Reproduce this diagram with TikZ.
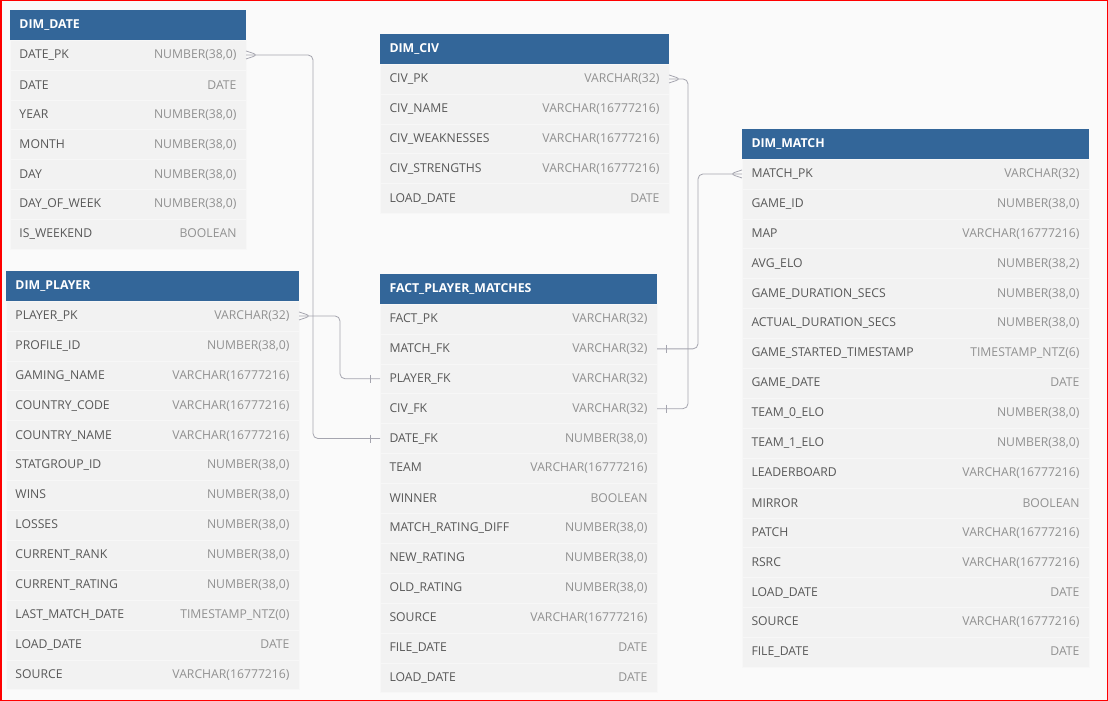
\documentclass[tikz,border=0pt]{standalone}
\usepackage{fontspec}
\setmainfont{Open Sans}
\usetikzlibrary{positioning}
\definecolor{headblue}{RGB}{51,102,153}
\definecolor{rowgray}{RGB}{242,242,242}
\definecolor{rowline}{RGB}{247,247,247}
\definecolor{namegray}{RGB}{88,88,88}
\definecolor{typegray}{RGB}{145,145,145}
\definecolor{linkgray}{RGB}{165,165,175}
\definecolor{pagegray}{RGB}{250,250,250}
\newcommand{\fld}[2]{{\color{namegray}#1}\hfill{\color{typegray}#2}}

\begin{document}
\begin{tikzpicture}[x=1pt, y=-1pt, node distance=0pt,
    header/.style={fill=headblue, text=white, font=\bfseries\fontsize{12.3}{14}\selectfont,
        text width=#1, align=left, inner xsep=9.5pt, inner ysep=0pt,
        minimum height=30pt, outer sep=0pt, anchor=north west},
    field/.style={fill=rowgray, draw=rowline, line width=0.5pt, font=\fontsize{12.2}{14}\selectfont,
        text width=#1, align=left, inner xsep=9.5pt, inner ysep=0pt,
        minimum height=29.9pt, outer sep=0pt},
    link/.style={draw=linkgray, line width=0.8pt, rounded corners=5pt}]
        \fill[pagegray] (0,0) rectangle (1108,701);
        \useasboundingbox (0,0) rectangle (1108,701);

        % DIM_DATE
        \node (dateh) [header=217pt] at (10,10) {DIM\_DATE};
        \node (datepk) [field=217pt, below=of dateh] {\fld{DATE\_PK}{NUMBER(38,0)}};
        \node (datedate) [field=217pt, below=of datepk] {\fld{DATE}{DATE}};
        \node (dateyear) [field=217pt, below=of datedate] {\fld{YEAR}{NUMBER(38,0)}};
        \node (datemonth) [field=217pt, below=of dateyear] {\fld{MONTH}{NUMBER(38,0)}};
        \node (dateday) [field=217pt, below=of datemonth] {\fld{DAY}{NUMBER(38,0)}};
        \node (datedow) [field=217pt, below=of dateday] {\fld{DAY\_OF\_WEEK}{NUMBER(38,0)}};
        \node (dateweekend) [field=217pt, below=of datedow] {\fld{IS\_WEEKEND}{BOOLEAN}};

        % DIM_PLAYER
        \node (playerh) [header=274pt] at (6,271) {DIM\_PLAYER};
        \node (playerpk) [field=274pt, below=of playerh] {\fld{PLAYER\_PK}{VARCHAR(32)}};
        \node (playerprofile) [field=274pt, below=of playerpk] {\fld{PROFILE\_ID}{NUMBER(38,0)}};
        \node (playername) [field=274pt, below=of playerprofile] {\fld{GAMING\_NAME}{VARCHAR(16777216)}};
        \node (playerccode) [field=274pt, below=of playername] {\fld{COUNTRY\_CODE}{VARCHAR(16777216)}};
        \node (playercname) [field=274pt, below=of playerccode] {\fld{COUNTRY\_NAME}{VARCHAR(16777216)}};
        \node (playerstat) [field=274pt, below=of playercname] {\fld{STATGROUP\_ID}{NUMBER(38,0)}};
        \node (playerwins) [field=274pt, below=of playerstat] {\fld{WINS}{NUMBER(38,0)}};
        \node (playerlosses) [field=274pt, below=of playerwins] {\fld{LOSSES}{NUMBER(38,0)}};
        \node (playerrank) [field=274pt, below=of playerlosses] {\fld{CURRENT\_RANK}{NUMBER(38,0)}};
        \node (playerrating) [field=274pt, below=of playerrank] {\fld{CURRENT\_RATING}{NUMBER(38,0)}};
        \node (playerlast) [field=274pt, below=of playerrating] {\fld{LAST\_MATCH\_DATE}{TIMESTAMP\_NTZ(0)}};
        \node (playerload) [field=274pt, below=of playerlast] {\fld{LOAD\_DATE}{DATE}};
        \node (playersource) [field=274pt, below=of playerload] {\fld{SOURCE}{VARCHAR(16777216)}};

        % DIM_CIV
        \node (civh) [header=270pt] at (380,34) {DIM\_CIV};
        \node (civpk) [field=270pt, below=of civh] {\fld{CIV\_PK}{VARCHAR(32)}};
        \node (civname) [field=270pt, below=of civpk] {\fld{CIV\_NAME}{VARCHAR(16777216)}};
        \node (civweak) [field=270pt, below=of civname] {\fld{CIV\_WEAKNESSES}{VARCHAR(16777216)}};
        \node (civstrong) [field=270pt, below=of civweak] {\fld{CIV\_STRENGTHS}{VARCHAR(16777216)}};
        \node (civload) [field=270pt, below=of civstrong] {\fld{LOAD\_DATE}{DATE}};

        % FACT_PLAYER_MATCHES
        \node (facth) [header=258pt] at (380,274) {FACT\_PLAYER\_MATCHES};
        \node (fpk) [field=258pt, below=of facth] {\fld{FACT\_PK}{VARCHAR(32)}};
        \node (fmatchfk) [field=258pt, below=of fpk] {\fld{MATCH\_FK}{VARCHAR(32)}};
        \node (fplayerfk) [field=258pt, below=of fmatchfk] {\fld{PLAYER\_FK}{VARCHAR(32)}};
        \node (fcivfk) [field=258pt, below=of fplayerfk] {\fld{CIV\_FK}{VARCHAR(32)}};
        \node (fdatefk) [field=258pt, below=of fcivfk] {\fld{DATE\_FK}{NUMBER(38,0)}};
        \node (fteam) [field=258pt, below=of fdatefk] {\fld{TEAM}{VARCHAR(16777216)}};
        \node (fwinner) [field=258pt, below=of fteam] {\fld{WINNER}{BOOLEAN}};
        \node (fdiff) [field=258pt, below=of fwinner] {\fld{MATCH\_RATING\_DIFF}{NUMBER(38,0)}};
        \node (fnew) [field=258pt, below=of fdiff] {\fld{NEW\_RATING}{NUMBER(38,0)}};
        \node (fold) [field=258pt, below=of fnew] {\fld{OLD\_RATING}{NUMBER(38,0)}};
        \node (fsource) [field=258pt, below=of fold] {\fld{SOURCE}{VARCHAR(16777216)}};
        \node (ffile) [field=258pt, below=of fsource] {\fld{FILE\_DATE}{DATE}};
        \node (fload) [field=258pt, below=of ffile] {\fld{LOAD\_DATE}{DATE}};

        % DIM_MATCH
        \node (matchh) [header=328pt] at (742,129) {DIM\_MATCH};
        \node (matchpk) [field=328pt, below=of matchh] {\fld{MATCH\_PK}{VARCHAR(32)}};
        \node (mgame) [field=328pt, below=of matchpk] {\fld{GAME\_ID}{NUMBER(38,0)}};
        \node (mmap) [field=328pt, below=of mgame] {\fld{MAP}{VARCHAR(16777216)}};
        \node (melo) [field=328pt, below=of mmap] {\fld{AVG\_ELO}{NUMBER(38,2)}};
        \node (mdur) [field=328pt, below=of melo] {\fld{GAME\_DURATION\_SECS}{NUMBER(38,0)}};
        \node (mactual) [field=328pt, below=of mdur] {\fld{ACTUAL\_DURATION\_SECS}{NUMBER(38,0)}};
        \node (mstart) [field=328pt, below=of mactual] {\fld{GAME\_STARTED\_TIMESTAMP}{TIMESTAMP\_NTZ(6)}};
        \node (mdate) [field=328pt, below=of mstart] {\fld{GAME\_DATE}{DATE}};
        \node (mteamzero) [field=328pt, below=of mdate] {\fld{TEAM\_0\_ELO}{NUMBER(38,0)}};
        \node (mteamone) [field=328pt, below=of mteamzero] {\fld{TEAM\_1\_ELO}{NUMBER(38,0)}};
        \node (mboard) [field=328pt, below=of mteamone] {\fld{LEADERBOARD}{VARCHAR(16777216)}};
        \node (mmirror) [field=328pt, below=of mboard] {\fld{MIRROR}{BOOLEAN}};
        \node (mpatch) [field=328pt, below=of mmirror] {\fld{PATCH}{VARCHAR(16777216)}};
        \node (mrsrc) [field=328pt, below=of mpatch] {\fld{RSRC}{VARCHAR(16777216)}};
        \node (mload) [field=328pt, below=of mrsrc] {\fld{LOAD\_DATE}{DATE}};
        \node (msource) [field=328pt, below=of mload] {\fld{SOURCE}{VARCHAR(16777216)}};
        \node (mfile) [field=328pt, below=of msource] {\fld{FILE\_DATE}{DATE}};

        % links: crow's foot at the key, bar at the foreign key
        \draw[link] (datepk.east) -- ++(67,0) |- (fdatefk.west);
        \draw[link] (playerpk.east) -- ++(41,0) |- (fplayerfk.west);
        \draw[link] (fmatchfk.east) -- ++(41,0) |- (matchpk.west);
        \draw[link] (fcivfk.east) -- ++(31,0) |- (civpk.east);

        \draw[link] (datepk.east) ++(0,-4) -- ++(12,4) -- ++(-12,4);
        \draw[link] (playerpk.east) ++(0,-4) -- ++(12,4) -- ++(-12,4);
        \draw[link] (civpk.east) ++(0,-4) -- ++(12,4) -- ++(-12,4);
        \draw[link] (matchpk.west) ++(0,-4) -- ++(-12,4) -- ++(12,4);

        \draw[link] (fdatefk.west) ++(-10,-4) -- ++(0,8);
        \draw[link] (fplayerfk.west) ++(-10,-4) -- ++(0,8);
        \draw[link] (fmatchfk.east) ++(9,-4) -- ++(0,8);
        \draw[link] (fcivfk.east) ++(9,-4) -- ++(0,8);

        \draw[red, line width=1.5pt] (0.75,0.75) rectangle (1107.25,700.25);
    \end{tikzpicture}
\end{document}
